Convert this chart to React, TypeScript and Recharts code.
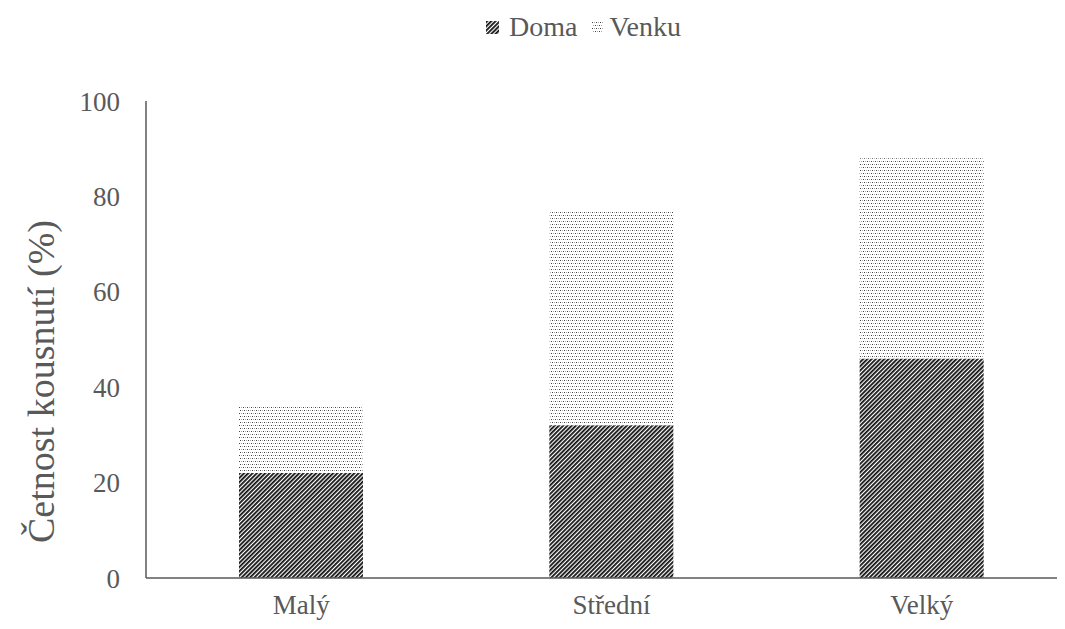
import { BarChart, Bar, XAxis, YAxis } from 'recharts';

const categories = ['Malý', 'Střední', 'Velký'];
const domaValues = [22, 32, 46];
const venkuValues = [14, 45, 42];
const yTicks = [0, 20, 40, 60, 80, 100];

const seriesNames = { doma: 'Doma', venku: 'Venku' };
const yTitle = 'Četnost kousnutí (%)';

const data = categories.map((name, i) => ({
  name,
  doma: domaValues[i],
  venku: venkuValues[i],
}));

const FONT = 'Liberation Serif';
const TEXT = '#595959';

const Patterns = ({ suffix }: { suffix: string }) => (
  <defs>
    <pattern
      id={`hatch-${suffix}`}
      width="3"
      height="3"
      patternUnits="userSpaceOnUse"
      patternTransform="rotate(45)"
    >
      <rect width="3" height="3" fill="#ffffff" />
      <rect width="1.8" height="3" fill="#111111" />
    </pattern>
    <pattern id={`dots-${suffix}`} width="4" height="6" patternUnits="userSpaceOnUse">
      <rect width="4" height="6" fill="#ffffff" />
      <rect x="0" y="0" width="1" height="1" fill="#444444" />
      <rect x="2" y="0" width="1" height="1" fill="#a8a8a8" />
      <rect x="1" y="3" width="1" height="1" fill="#a8a8a8" />
      <rect x="3" y="3" width="1" height="1" fill="#444444" />
    </pattern>
  </defs>
);

const LegendIcon = ({ fill, size, gap }: { fill: string; size: number; gap: number }) => (
  <svg width={size} height={size} style={{ marginRight: gap }}>
    <Patterns suffix="legend" />
    <rect width={size} height={size} fill={fill} />
  </svg>
);

// vertical axis title, sits a bit below the plot centre like the original
const YTitle = (props: any) => {
  const { viewBox } = props;
  const cx = 33;
  const cy = viewBox.y + viewBox.height / 2 + 42;
  return (
    <text
      x={cx}
      y={cy}
      transform={`rotate(-90, ${cx}, ${cy})`}
      textAnchor="middle"
      dominantBaseline="central"
      fill={TEXT}
      fontSize={38}
      fontFamily={FONT}
    >
      {yTitle}
    </text>
  );
};

export default function App() {
  return (
    <div style={{ position: 'relative', width: 1057, height: 612, overflow: 'hidden', fontFamily: FONT }}>
      <div
        style={{
          position: 'absolute',
          top: 5,
          left: 478,
          display: 'flex',
          alignItems: 'center',
          fontFamily: FONT,
          fontSize: 28,
          lineHeight: '28px',
          color: TEXT,
          whiteSpace: 'nowrap',
        }}
      >
        <LegendIcon fill="url(#hatch-legend)" size={13} gap={10} />
        <span style={{ marginRight: 15 }}>{seriesNames.doma}</span>
        <LegendIcon fill="url(#dots-legend)" size={11} gap={6} />
        <span>{seriesNames.venku}</span>
      </div>
      <BarChart
        width={1069}
        height={612}
        data={data}
        margin={{ top: 93, right: 0, bottom: 0, left: 0 }}
        style={{ fontFamily: FONT }}
      >
        <Patterns suffix="chart" />
        <XAxis
          dataKey="name"
          axisLine={{ stroke: TEXT, strokeWidth: 1.5 }}
          tickLine={false}
          tickSize={0}
          tickMargin={17}
          height={42}
          tick={{ fill: TEXT, fontSize: 27, fontFamily: FONT }}
        />
        <YAxis
          domain={[0, 100]}
          ticks={yTicks}
          interval={0}
          width={138}
          axisLine={{ stroke: TEXT, strokeWidth: 1.5 }}
          tickLine={false}
          tickSize={0}
          tickMargin={26}
          tick={{ fill: TEXT, fontSize: 27, fontFamily: FONT }}
          label={{ content: <YTitle /> }}
        />
        <Bar
          dataKey="doma"
          name={seriesNames.doma}
          stackId="a"
          barSize={124}
          fill="url(#hatch-chart)"
          isAnimationActive={false}
        />
        <Bar
          dataKey="venku"
          name={seriesNames.venku}
          stackId="a"
          barSize={124}
          fill="url(#dots-chart)"
          isAnimationActive={false}
        />
      </BarChart>
    </div>
  );
}
